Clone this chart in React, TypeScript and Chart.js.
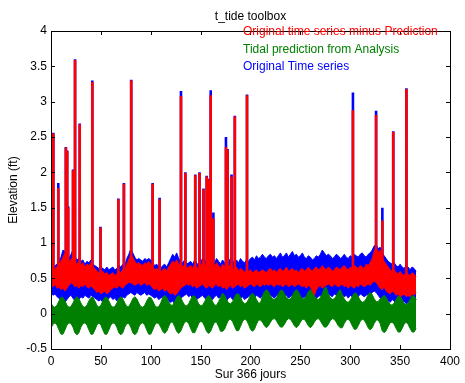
import React, { useEffect, useRef } from "react";
import { Chart, registerables } from "chart.js";

Chart.register(...registerables);

const TITLE = "t_tide toolbox";
const X_LABEL = "Sur 366 jours";
const Y_LABEL = "Elevation (ft)";
const LEGEND_LABELS = [
  "Original time series minus Prediction",
  "Tidal prediction from Analysis",
  "Original Time series",
];
const LEGEND_COLORS = ["#ff0000", "#008000", "#0000ff"];

const X_MIN = 0;
const X_MAX = 400;
const X_STEP = 50;
const Y_MIN = -0.5;
const Y_MAX = 4;
const Y_STEP = 0.5;

// sampling of the envelopes: one value every 2 days, from day 0 to day 366
const DAY_START = 0;
const DAY_STEP = 2;

// Tidal prediction (green) envelope
const G_HI = [
  0.15, 0.10, 0.09, 0.12, 0.18, 0.23, 0.23, 0.18, 0.12, 0.09,
  0.10, 0.15, 0.21, 0.24, 0.21, 0.15, 0.10, 0.09, 0.12, 0.18,
  0.23, 0.23, 0.18, 0.12, 0.09, 0.12, 0.18, 0.23, 0.23, 0.18,
  0.12, 0.09, 0.10, 0.15, 0.21, 0.24, 0.21, 0.15, 0.10, 0.10,
  0.15, 0.21, 0.24, 0.21, 0.15, 0.10, 0.09, 0.12, 0.18, 0.23,
  0.23, 0.18, 0.12, 0.09, 0.10, 0.15, 0.23, 0.26, 0.23, 0.17,
  0.12, 0.12, 0.17, 0.23, 0.26, 0.23, 0.17, 0.12, 0.11, 0.14,
  0.20, 0.25, 0.25, 0.20, 0.14, 0.11, 0.12, 0.17, 0.23, 0.26,
  0.23, 0.17, 0.12, 0.12, 0.17, 0.23, 0.29, 0.26, 0.20, 0.15,
  0.14, 0.17, 0.23, 0.28, 0.28, 0.23, 0.17, 0.14, 0.15, 0.20,
  0.26, 0.29, 0.26, 0.20, 0.15, 0.15, 0.25, 0.31, 0.34, 0.31,
  0.25, 0.21, 0.20, 0.23, 0.28, 0.33, 0.33, 0.28, 0.23, 0.20,
  0.21, 0.25, 0.31, 0.34, 0.31, 0.25, 0.21, 0.21, 0.25, 0.31,
  0.34, 0.31, 0.25, 0.21, 0.20, 0.23, 0.28, 0.36, 0.37, 0.28,
  0.23, 0.20, 0.21, 0.25, 0.31, 0.34, 0.27, 0.21, 0.17, 0.16,
  0.19, 0.24, 0.29, 0.29, 0.24, 0.19, 0.16, 0.17, 0.21, 0.27,
  0.30, 0.27, 0.21, 0.17, 0.17, 0.21, 0.23, 0.26, 0.23, 0.17,
  0.13, 0.12, 0.15, 0.20, 0.25, 0.25, 0.20, 0.15, 0.12, 0.15,
  0.20, 0.25, 0.25, 0.20,
];
const G_LO = [
  -0.20, -0.15, -0.13, -0.16, -0.23, -0.29, -0.29, -0.23, -0.16, -0.13,
  -0.14, -0.19, -0.27, -0.30, -0.27, -0.19, -0.14, -0.13, -0.16, -0.23,
  -0.29, -0.29, -0.23, -0.16, -0.13, -0.16, -0.23, -0.29, -0.29, -0.23,
  -0.16, -0.13, -0.14, -0.19, -0.27, -0.30, -0.27, -0.19, -0.14, -0.14,
  -0.19, -0.27, -0.30, -0.27, -0.19, -0.14, -0.13, -0.16, -0.23, -0.29,
  -0.29, -0.23, -0.16, -0.13, -0.14, -0.19, -0.25, -0.28, -0.25, -0.18,
  -0.12, -0.12, -0.18, -0.25, -0.28, -0.25, -0.18, -0.12, -0.11, -0.14,
  -0.21, -0.27, -0.27, -0.21, -0.14, -0.11, -0.12, -0.18, -0.25, -0.28,
  -0.25, -0.18, -0.12, -0.12, -0.18, -0.25, -0.25, -0.22, -0.15, -0.09,
  -0.08, -0.11, -0.18, -0.24, -0.24, -0.18, -0.11, -0.08, -0.09, -0.15,
  -0.22, -0.25, -0.22, -0.15, -0.09, -0.09, -0.12, -0.17, -0.20, -0.17,
  -0.12, -0.08, -0.07, -0.10, -0.15, -0.19, -0.19, -0.15, -0.10, -0.07,
  -0.08, -0.12, -0.17, -0.20, -0.17, -0.12, -0.08, -0.08, -0.12, -0.17,
  -0.20, -0.17, -0.12, -0.08, -0.07, -0.10, -0.15, -0.19, -0.19, -0.15,
  -0.10, -0.07, -0.08, -0.12, -0.17, -0.20, -0.20, -0.14, -0.09, -0.08,
  -0.11, -0.17, -0.22, -0.22, -0.17, -0.11, -0.08, -0.09, -0.14, -0.20,
  -0.23, -0.20, -0.14, -0.09, -0.09, -0.14, -0.24, -0.27, -0.24, -0.18,
  -0.13, -0.12, -0.15, -0.21, -0.26, -0.26, -0.21, -0.15, -0.12, -0.15,
  -0.21, -0.26, -0.26, -0.21,
];

// Residual (red) envelope
const R_HI = [
  0.62, 0.60, 0.64, 0.66, 0.70, 0.74, 0.80, 0.86, 0.78, 0.74,
  0.76, 0.80, 0.72, 0.70, 0.74, 0.68, 0.72, 0.66, 0.70, 0.68,
  0.72, 0.66, 0.64, 0.60, 0.58, 0.56, 0.60, 0.56, 0.58, 0.54,
  0.56, 0.58, 0.54, 0.56, 0.60, 0.58, 0.62, 0.60, 0.70, 0.76,
  0.84, 0.80, 0.74, 0.70, 0.72, 0.70, 0.68, 0.72, 0.70, 0.74,
  0.70, 0.66, 0.62, 0.64, 0.60, 0.58, 0.62, 0.64, 0.60, 0.66,
  0.70, 0.74, 0.72, 0.76, 0.70, 0.68, 0.66, 0.70, 0.64, 0.66,
  0.68, 0.64, 0.70, 0.66, 0.62, 0.68, 0.72, 0.70, 0.66, 0.64,
  0.68, 0.70, 0.66, 0.72, 0.68, 0.64, 0.70, 0.66, 0.62, 0.66,
  0.70, 0.64, 0.62, 0.66, 0.60, 0.64, 0.62, 0.58, 0.62, 0.60,
  0.62, 0.58, 0.60, 0.62, 0.58, 0.60, 0.62, 0.60, 0.58, 0.62,
  0.64, 0.60, 0.62, 0.58, 0.62, 0.64, 0.60, 0.62, 0.66, 0.60,
  0.62, 0.64, 0.60, 0.62, 0.58, 0.62, 0.64, 0.60, 0.62, 0.66,
  0.62, 0.60, 0.64, 0.66, 0.62, 0.64, 0.68, 0.64, 0.62, 0.66,
  0.64, 0.60, 0.62, 0.66, 0.64, 0.62, 0.66, 0.68, 0.64, 0.62,
  0.66, 0.64, 0.68, 0.66, 0.64, 0.68, 0.66, 0.64, 0.70, 0.68,
  0.72, 0.78, 0.88, 0.94, 0.86, 0.90, 0.80, 0.74, 0.70, 0.66,
  0.62, 0.60, 0.62, 0.58, 0.56, 0.60, 0.56, 0.54, 0.58, 0.56,
  0.54, 0.58, 0.56, 0.52,
];
const R_LO = [
  0.40, 0.38, 0.42, 0.36, 0.38, 0.34, 0.36, 0.32, 0.36, 0.40,
  0.44, 0.42, 0.38, 0.40, 0.36, 0.40, 0.38, 0.42, 0.38, 0.36,
  0.40, 0.36, 0.34, 0.30, 0.32, 0.28, 0.30, 0.32, 0.28, 0.30,
  0.34, 0.36, 0.38, 0.36, 0.40, 0.38, 0.36, 0.40, 0.42, 0.44,
  0.44, 0.42, 0.40, 0.42, 0.44, 0.40, 0.42, 0.44, 0.40, 0.42,
  0.40, 0.36, 0.34, 0.36, 0.32, 0.34, 0.36, 0.32, 0.34, 0.30,
  0.28, 0.30, 0.26, 0.28, 0.32, 0.36, 0.38, 0.40, 0.42, 0.40,
  0.42, 0.38, 0.40, 0.36, 0.38, 0.40, 0.42, 0.38, 0.36, 0.40,
  0.38, 0.36, 0.40, 0.42, 0.38, 0.40, 0.36, 0.38, 0.34, 0.38,
  0.40, 0.36, 0.38, 0.40, 0.42, 0.38, 0.40, 0.36, 0.38, 0.40,
  0.42, 0.40, 0.38, 0.42, 0.40, 0.38, 0.42, 0.40, 0.42, 0.40,
  0.42, 0.40, 0.38, 0.42, 0.40, 0.42, 0.38, 0.40, 0.42, 0.38,
  0.40, 0.42, 0.38, 0.40, 0.42, 0.40, 0.38, 0.40, 0.36, 0.40,
  0.38, 0.32, 0.26, 0.34, 0.38, 0.40, 0.36, 0.38, 0.40, 0.42,
  0.40, 0.38, 0.42, 0.40, 0.38, 0.40, 0.42, 0.38, 0.40, 0.36,
  0.40, 0.38, 0.36, 0.40, 0.38, 0.42, 0.40, 0.38, 0.40, 0.42,
  0.40, 0.44, 0.46, 0.44, 0.40, 0.36, 0.34, 0.38, 0.32, 0.30,
  0.28, 0.32, 0.30, 0.26, 0.28, 0.24, 0.26, 0.28, 0.24, 0.26,
  0.24, 0.28, 0.26, 0.30,
];

// Original time series (blue) envelope
const B_HI = [
  0.66, 0.64, 0.68, 0.70, 0.74, 0.80, 0.90, 0.88, 0.82, 0.78,
  0.84, 0.90, 0.80, 0.76, 0.78, 0.74, 0.76, 0.70, 0.74, 0.72,
  0.76, 0.70, 0.68, 0.66, 0.64, 0.66, 0.64, 0.62, 0.66, 0.62,
  0.64, 0.66, 0.62, 0.64, 0.68, 0.66, 0.70, 0.68, 0.78, 0.84,
  0.92, 0.86, 0.80, 0.76, 0.78, 0.76, 0.74, 0.78, 0.76, 0.78,
  0.76, 0.72, 0.68, 0.70, 0.66, 0.64, 0.68, 0.70, 0.66, 0.72,
  0.78, 0.84, 0.80, 0.86, 0.78, 0.74, 0.72, 0.76, 0.70, 0.72,
  0.74, 0.70, 0.76, 0.72, 0.68, 0.74, 0.78, 0.76, 0.72, 0.70,
  0.74, 0.76, 0.72, 0.78, 0.74, 0.70, 0.76, 0.72, 0.70, 0.74,
  0.78, 0.74, 0.72, 0.76, 0.72, 0.78, 0.74, 0.72, 0.76, 0.74,
  0.78, 0.80, 0.76, 0.82, 0.78, 0.80, 0.84, 0.80, 0.78, 0.82,
  0.84, 0.80, 0.82, 0.78, 0.82, 0.86, 0.80, 0.82, 0.86, 0.80,
  0.84, 0.88, 0.82, 0.84, 0.80, 0.82, 0.86, 0.80, 0.78, 0.82,
  0.80, 0.76, 0.78, 0.82, 0.80, 0.84, 0.90, 0.86, 0.82, 0.84,
  0.82, 0.78, 0.80, 0.84, 0.82, 0.78, 0.80, 0.84, 0.80, 0.78,
  0.82, 0.80, 0.84, 0.82, 0.80, 0.84, 0.86, 0.82, 0.80, 0.84,
  0.86, 0.90, 0.96, 0.98, 0.92, 0.94, 0.86, 0.82, 0.78, 0.74,
  0.72, 0.70, 0.72, 0.68, 0.66, 0.70, 0.66, 0.64, 0.68, 0.66,
  0.62, 0.66, 0.64, 0.60,
];
const B_LO = [
  0.30, 0.26, 0.28, 0.24, 0.22, 0.18, 0.22, 0.16, 0.20, 0.24,
  0.26, 0.22, 0.18, 0.22, 0.20, 0.24, 0.22, 0.26, 0.24, 0.22,
  0.26, 0.24, 0.22, 0.20, 0.18, 0.20, 0.16, 0.20, 0.18, 0.22,
  0.24, 0.20, 0.22, 0.18, 0.22, 0.20, 0.24, 0.22, 0.26, 0.28,
  0.30, 0.28, 0.26, 0.30, 0.28, 0.26, 0.28, 0.30, 0.26, 0.28,
  0.26, 0.24, 0.22, 0.24, 0.20, 0.22, 0.24, 0.20, 0.22, 0.18,
  0.16, 0.18, 0.14, 0.16, 0.18, 0.22, 0.24, 0.26, 0.28, 0.24,
  0.26, 0.22, 0.24, 0.20, 0.22, 0.24, 0.26, 0.22, 0.20, 0.24,
  0.22, 0.20, 0.24, 0.26, 0.22, 0.24, 0.20, 0.22, 0.18, 0.22,
  0.24, 0.20, 0.22, 0.24, 0.26, 0.22, 0.24, 0.20, 0.22, 0.24,
  0.26, 0.24, 0.22, 0.26, 0.24, 0.22, 0.26, 0.24, 0.26, 0.24,
  0.26, 0.24, 0.22, 0.26, 0.24, 0.26, 0.22, 0.24, 0.26, 0.22,
  0.24, 0.26, 0.22, 0.24, 0.26, 0.24, 0.22, 0.24, 0.20, 0.24,
  0.22, 0.18, 0.16, 0.22, 0.24, 0.26, 0.22, 0.24, 0.26, 0.28,
  0.26, 0.24, 0.28, 0.26, 0.24, 0.26, 0.28, 0.24, 0.26, 0.22,
  0.26, 0.24, 0.22, 0.26, 0.24, 0.28, 0.26, 0.24, 0.26, 0.28,
  0.26, 0.30, 0.32, 0.30, 0.26, 0.22, 0.20, 0.24, 0.20, 0.18,
  0.16, 0.20, 0.18, 0.14, 0.16, 0.14, 0.16, 0.18, 0.14, 0.16,
  0.14, 0.18, 0.16, 0.20,
];

// Surge spikes (day, peak elevation)
const SPIKE_BASE = 0.5;
const SPIKE_DAYS = [
  2.3, 7.3, 14.9, 16.2, 17.2, 22.1, 24.1, 28.8, 41.4, 49.6, 67.5, 73.1, 80.4,
  101.9, 108.9, 130.3, 134.7, 144.6, 148.9, 152.9, 156.1, 157.8, 160.1, 162.8,
  175.4, 177.0, 181.0, 184.3, 196.5, 302.7, 325.9, 332.2, 343.1, 356.3,
];
const RED_PEAKS = [
  2.55, 1.78, 2.35, 2.30, 1.50, 2.03, 3.59, 2.68, 3.28, 1.22, 1.62, 1.84, 3.30,
  1.84, 1.62, 3.08, 1.99, 1.96, 1.99, 1.76, 1.94, 1.90, 3.09, 1.35,
  2.36, 2.32, 1.94, 2.79, 3.09, 2.88, 2.81, 1.32, 2.57, 3.18,
];
const BLUE_PEAKS = [
  2.56, 1.85, 2.36, 2.31, 1.52, 2.04, 3.60, 2.69, 3.30, 1.23, 1.63, 1.85, 3.31,
  1.85, 1.64, 3.15, 2.00, 1.97, 2.00, 1.77, 1.95, 1.91, 3.16, 1.43,
  2.50, 2.33, 1.97, 2.80, 3.10, 3.13, 2.87, 1.50, 2.58, 3.19,
];

const RED = "#ff0000";
const GREEN = "#008000";
const BLUE = "#0000ff";
const FONT = '"Liberation Sans", Arial, Helvetica, sans-serif';

const toPoints = (vals: number[]) =>
  vals.map((y, i) => ({ x: DAY_START + i * DAY_STEP, y }));

const spikePoints = (peaks: number[]) =>
  SPIKE_DAYS.flatMap((d, i) => [
    { x: d, y: SPIKE_BASE },
    { x: d, y: peaks[i] },
    { x: d, y: null as any },
  ]);

const framePlugin = {
  id: "matlabFrame",
  afterDraw(chart: any) {
    const { ctx, chartArea, scales } = chart;
    const { left, right, top, bottom } = chartArea;
    const xs = scales.x;
    const ys = scales.y;
    ctx.save();
    ctx.strokeStyle = "#000";
    ctx.lineWidth = 1;
    ctx.beginPath();
    const tl = 4;
    for (let v = X_MIN; v <= X_MAX + 1e-9; v += X_STEP) {
      const px = Math.round(xs.getPixelForValue(v)) + 0.5;
      ctx.moveTo(px, bottom);
      ctx.lineTo(px, bottom - tl);
      ctx.moveTo(px, top);
      ctx.lineTo(px, top + tl);
    }
    for (let v = Y_MIN; v <= Y_MAX + 1e-9; v += Y_STEP) {
      const py = Math.round(ys.getPixelForValue(v)) + 0.5;
      ctx.moveTo(left, py);
      ctx.lineTo(left + tl, py);
      ctx.moveTo(right, py);
      ctx.lineTo(right - tl, py);
    }
    ctx.stroke();
    ctx.strokeRect(Math.round(left) + 0.5, Math.round(top) + 0.5, Math.round(right - left), Math.round(bottom - top));

    ctx.fillStyle = "#000";
    ctx.font = `12px ${FONT}`;
    ctx.textAlign = "center";
    ctx.textBaseline = "middle";
    const cx = (left + right) / 2;
    ctx.fillText(TITLE, cx, 17);
    ctx.fillText(X_LABEL, cx, 375);
    ctx.save();
    ctx.translate(14, (top + bottom) / 2);
    ctx.rotate(-Math.PI / 2);
    ctx.fillText(Y_LABEL, 0, 0);
    ctx.restore();

    ctx.textAlign = "left";
    LEGEND_LABELS.forEach((t, i) => {
      ctx.fillStyle = LEGEND_COLORS[i];
      ctx.fillText(t, left + 192, top + 1 + i * 17.5);
    });
    ctx.restore();
  },
};

export default function App() {
  const ref = useRef<HTMLCanvasElement | null>(null);
  useEffect(() => {
    document.body.style.margin = "0";
    const canvas = ref.current;
    if (!canvas) return;
    const line = (data: any[], color: string, order: number, extra: any = {}) => ({
      data,
      borderColor: color,
      backgroundColor: color,
      borderWidth: 1,
      pointRadius: 0,
      tension: 0,
      fill: false,
      spanGaps: false,
      order,
      ...extra,
    });
    const chart = new Chart(canvas, {
      type: "line",
      data: {
        datasets: [
          line(spikePoints(RED_PEAKS), RED, 0, { borderWidth: 2.6 }),
          line(toPoints(R_LO), RED, 0),
          line(toPoints(R_HI), RED, 0, { fill: "-1" }),
          line(toPoints(G_LO), GREEN, 1),
          line(toPoints(G_HI), GREEN, 1, { fill: "-1" }),
          line(spikePoints(BLUE_PEAKS), BLUE, 2, { borderWidth: 2.6 }),
          line(toPoints(B_LO), BLUE, 2),
          line(toPoints(B_HI), BLUE, 2, { fill: "-1" }),
        ],
      },
      options: {
        responsive: false,
        animation: false,
        devicePixelRatio: 1,
        layout: { padding: { top: 31, right: 11, bottom: 0, left: 0 } },
        plugins: {
          legend: { display: false },
          tooltip: { enabled: false },
          title: { display: false },
          filler: { drawTime: "beforeDatasetDraw" },
        },
        scales: {
          x: {
            type: "linear",
            min: X_MIN,
            max: X_MAX,
            grid: { display: false, drawTicks: false },
            border: { display: false },
            ticks: {
              stepSize: X_STEP,
              color: "#000",
              padding: 5,
              font: { family: FONT, size: 12 },
              maxRotation: 0,
              callback: (v: any) => String(v),
            },
            afterFit: (s: any) => {
              s.height = 34;
            },
          },
          y: {
            type: "linear",
            min: Y_MIN,
            max: Y_MAX,
            grid: { display: false, drawTicks: false },
            border: { display: false },
            ticks: {
              stepSize: Y_STEP,
              color: "#000",
              padding: 4,
              font: { family: FONT, size: 12 },
              callback: (v: any) => String(v),
            },
            afterFit: (s: any) => {
              s.width = 51;
            },
          },
        },
      } as any,
      plugins: [framePlugin],
    });
    return () => chart.destroy();
  }, []);
  return <canvas ref={ref} width={465} height={383} style={{ display: "block" }} />;
}
